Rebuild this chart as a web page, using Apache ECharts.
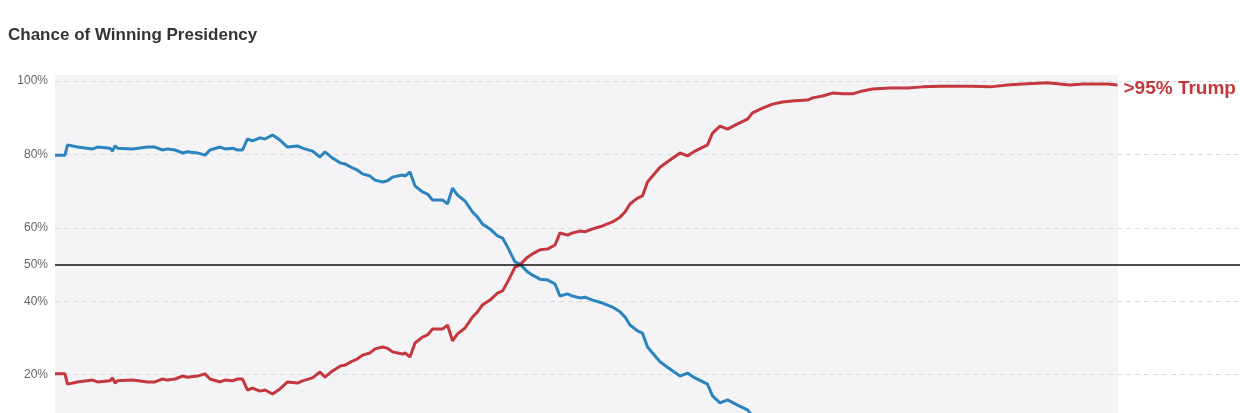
<!DOCTYPE html>
<html>
<head>
<meta charset="utf-8">
<style>html,body{margin:0;padding:0;background:#fff}#c{width:1240px;height:413px}</style>
<script src="https://cdn.jsdelivr.net/npm/echarts@6/dist/echarts.min.js"></script>
</head>
<body>
<div id="c"></div>
<script>
// minutes elapsed since the first reading
const minutes = [0,4,5,9,15,17,22,23,24,25,31,37,40,43,45,48,51,53,57,60,62,66,68,71,73,75,77,79,82,84,87,90,93,97,99,103,106,108,111,114,116,119,121,123,126,128,131,133,135,139,140,142,144,147,149,151,155,157,159,161,164,167,169,171,174,177,179,181,184,186,189,191,194,197,200,202,205,207,210,212,215,219,223,226,228,230,233,235,237,239,242,245,250,253,256,261,263,266,269,273,277,279,283,287,291,296,301,303,307,311,315,319,323,327,334,341,347,354,361,367,374,381,387,397,402,406,411,421,425];
// Trump chance of winning (%)
const trump = [20.2,20.2,17.4,18.0,18.5,18.0,18.3,19.1,17.7,18.3,18.5,18.0,18.0,18.8,18.5,18.8,19.6,19.3,19.6,20.2,18.8,18.0,18.5,18.3,18.8,18.8,15.8,16.3,15.5,15.8,14.7,16.1,18.0,17.7,18.3,19.1,20.7,19.3,21.0,22.3,22.6,23.7,24.3,25.3,25.9,27.0,27.5,27.2,26.2,25.6,25.9,24.8,28.6,30.2,30.8,32.4,32.4,33.5,29.2,31.1,32.7,35.7,37.1,39.0,40.3,42.2,42.8,45.2,49.3,49.9,52.0,52.9,54.0,54.2,55.3,58.6,58.0,58.6,59.1,58.9,59.7,60.5,61.6,62.9,64.3,66.5,68.1,68.7,72.5,74.1,76.5,78.0,80.4,79.6,80.9,82.6,85.8,87.7,86.9,88.3,89.6,91.3,92.6,93.7,94.3,94.6,94.8,95.4,95.9,96.7,96.5,96.5,97.3,97.8,98.1,98.1,98.4,98.6,98.6,98.6,98.4,98.9,99.2,99.5,99.2,98.9,99.2,99.2,98.9];
// Clinton chance of winning (%)
const clinton = [79.8,79.8,82.6,82.0,81.5,82.0,81.7,80.9,82.3,81.7,81.5,82.0,82.0,81.2,81.5,81.2,80.4,80.7,80.4,79.8,81.2,82.0,81.5,81.7,81.2,81.2,84.2,83.7,84.5,84.2,85.3,83.9,82.0,82.3,81.7,80.9,79.3,80.7,79.0,77.7,77.4,76.3,75.7,74.7,74.1,73.0,72.5,72.8,73.8,74.4,74.1,75.2,71.4,69.8,69.2,67.6,67.6,66.5,70.8,68.9,67.3,64.3,62.9,61.0,59.7,57.8,57.2,54.8,50.7,50.1,48.0,47.1,46.0,45.8,44.7,41.4,42.0,41.4,40.9,41.1,40.3,39.5,38.4,37.1,35.7,33.5,31.9,31.3,27.5,25.9,23.5,22.0,19.6,20.4,19.1,17.4,14.2,12.3,13.1,11.7,10.4,8.7,7.4,6.3,5.7,5.4,5.2,4.6,4.1,3.3,3.5,3.5,2.7,2.2,1.9,1.9,1.6,1.4,1.4,1.4,1.6,1.1,0.8,0.5,0.8,1.1,0.8,0.8,1.1];
const yTicks = [0,20,40,60,80,100];
const endLabelText = '>95% Trump';
const midLabel = '50%';

const RED = '#c4383d', BLUE = '#2b84bd';
const pair = a => a.map((v,i)=>[minutes[i], v]);
const font = '"Liberation Sans", Arial, sans-serif';

const chart = echarts.init(document.getElementById('c'), null, {renderer:'canvas'});
chart.setOption({
  animation:false,
  textStyle:{fontFamily:font},
  title:{text:'Chance of Winning Presidency', left:3, top:22,
    textStyle:{fontSize:17, fontWeight:'bold', color:'#333', fontFamily:font}},
  grid:[
    {left:55, right:122, top:75, bottom:0, show:true, backgroundColor:'#f4f3f6', borderWidth:0, outerBoundsMode:'none', containLabel:false},
    {left:55, right:0, top:81, bottom:-35, outerBoundsMode:'none', containLabel:false}
  ],
  xAxis:[
    {gridIndex:0, type:'value', show:false, min:0, max:1},
    {gridIndex:1, type:'value', show:false, min:0, max:474}
  ],
  yAxis:[
    {gridIndex:0, type:'value', show:false, min:0, max:1},
    {gridIndex:1, type:'value', min:yTicks[0], max:yTicks[yTicks.length-1], interval:20,
      axisLine:{show:false}, axisTick:{show:false},
      axisLabel:{formatter:v=>v===0?'':v+'%', color:'#666', fontSize:12, margin:7, fontFamily:font},
      splitLine:{show:true, lineStyle:{color:'#dcdcdc', type:[5,4], width:1}}}
  ],
  series:[
    {type:'line', xAxisIndex:1, yAxisIndex:1, data:pair(clinton), symbol:'none',
      lineStyle:{color:BLUE, width:3}, z:3},
    {type:'line', xAxisIndex:1, yAxisIndex:1, data:pair(trump), symbol:'none',
      lineStyle:{color:RED, width:3}, z:4,
      endLabel:{show:true, formatter:endLabelText, color:RED, fontSize:19, fontWeight:'bold',
        distance:6, offset:[0,4], fontFamily:font},
      markLine:{silent:true, symbol:'none', animation:false,
        lineStyle:{color:'#111', width:1.6, type:'solid'},
        label:{show:true, position:'start', formatter:midLabel, color:'#666', fontSize:12, distance:7, fontFamily:font},
        data:[{yAxis:50}]}}
  ]
});
</script>
</body>
</html>
